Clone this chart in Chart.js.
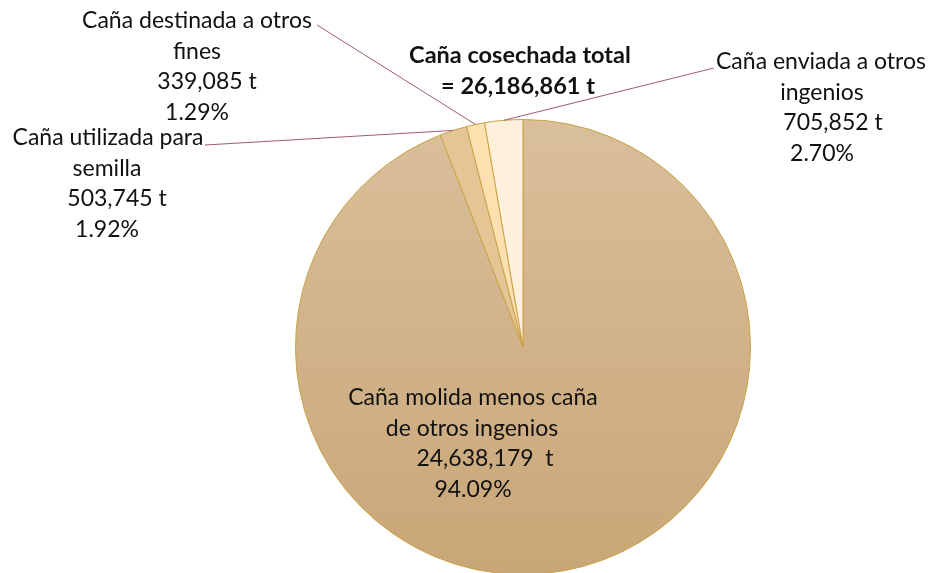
<!DOCTYPE html>
<html>
<head>
<meta charset="utf-8">
<script src="https://cdn.jsdelivr.net/npm/chart.js@4"></script>
<style>
  html, body { margin: 0; padding: 0; background: #fff; overflow: hidden; }
  #wrap { position: relative; width: 932px; height: 600px; }
</style>
</head>
<body>
<div id="wrap"><canvas id="chart"></canvas></div>
<script>
const categories = [
  "Caña molida menos caña de otros ingenios",
  "Caña utilizada para semilla",
  "Caña destinada a otros fines",
  "Caña enviada a otros ingenios",
];
const tonnes = [24638179, 503745, 339085, 705852];
const percents = ["94.09%", "1.92%", "1.29%", "2.70%"];
const tonneLabels = ["24,638,179  t", "503,745 t", "339,085 t", "705,852 t"];
const titleLines = ["Caña cosechada total", "= 26,186,861 t"];

const sliceColors = [null, "#e3c596", "#fde0b0", "#fff0dc"];
const FONT = "Lato, 'Open Sans', sans-serif";

// text blocks: lines, centre x of each line, first line centre y
const labelBlocks = [
  { lines: ["Caña molida menos caña", "de otros ingenios", tonneLabels[0], percents[0]], xs: [473, 472, 485, 473], y: 398 },
  { lines: ["Caña utilizada para", "semilla", tonneLabels[1], percents[1]], xs: [108, 107, 117, 107], y: 138, lead: [205, 145] },
  { lines: ["Caña destinada a otros", "fines", tonneLabels[2], percents[2]], xs: [197, 197, 207, 197], y: 21, lead: [317, 25] },
  { lines: ["Caña enviada a otros", "ingenios", tonneLabels[3], percents[3]], xs: [821, 822, 833, 822], y: 62, lead: [714, 68] },
];

const labelPlugin = {
  id: "labelPlugin",
  afterDraw(chart) {
    const ctx = chart.ctx;
    const arcs = chart.getDatasetMeta(0).data;
    ctx.save();
    labelBlocks.forEach((block, index) => {
      if (block.lead) {
        const arc = arcs[index];
        const mid = (arc.startAngle + arc.endAngle) / 2;
        const ex = arc.x + Math.cos(mid) * arc.outerRadius;
        const ey = arc.y + Math.sin(mid) * arc.outerRadius;
        ctx.strokeStyle = "#a05a76";
        ctx.lineWidth = 1;
        ctx.beginPath();
        ctx.moveTo(block.lead[0], block.lead[1]);
        ctx.lineTo(ex, ey);
        ctx.stroke();
      }
      ctx.fillStyle = "#111";
      ctx.font = `23px ${FONT}`;
      ctx.textAlign = "center";
      ctx.textBaseline = "middle";
      block.lines.forEach((line, i) => {
        ctx.fillText(line, block.xs[i], block.y + i * 30.5);
      });
    });
    ctx.font = `bold 23.5px ${FONT}`;
    ctx.fillText(titleLines[0], 520, 55);
    ctx.fillText(titleLines[1], 518, 86);
    ctx.restore();
  },
};

function sliceFill(context) {
  const index = context.dataIndex;
  if (sliceColors[index]) return sliceColors[index];
  const area = context.chart.chartArea;
  if (!area) return "#d3b48c";
  const gradient = context.chart.ctx.createLinearGradient(0, area.top, 0, area.bottom);
  gradient.addColorStop(0, "#d9bf9b");
  gradient.addColorStop(1, "#c9a677");
  return gradient;
}

new Chart(document.querySelector("#chart"), {
  type: "pie",
  data: {
    labels: categories,
    datasets: [{
      data: tonnes,
      backgroundColor: sliceFill,
      borderColor: "#c9a246",
      borderWidth: 1,
    }],
  },
  options: {
    responsive: true,
    maintainAspectRatio: false,
    animation: false,
    layout: { padding: { top: 119, bottom: 25, left: 295, right: 181 } },
    plugins: {
      legend: { display: false },
      tooltip: { enabled: false },
    },
  },
  plugins: [labelPlugin],
});
</script>
</body>
</html>
